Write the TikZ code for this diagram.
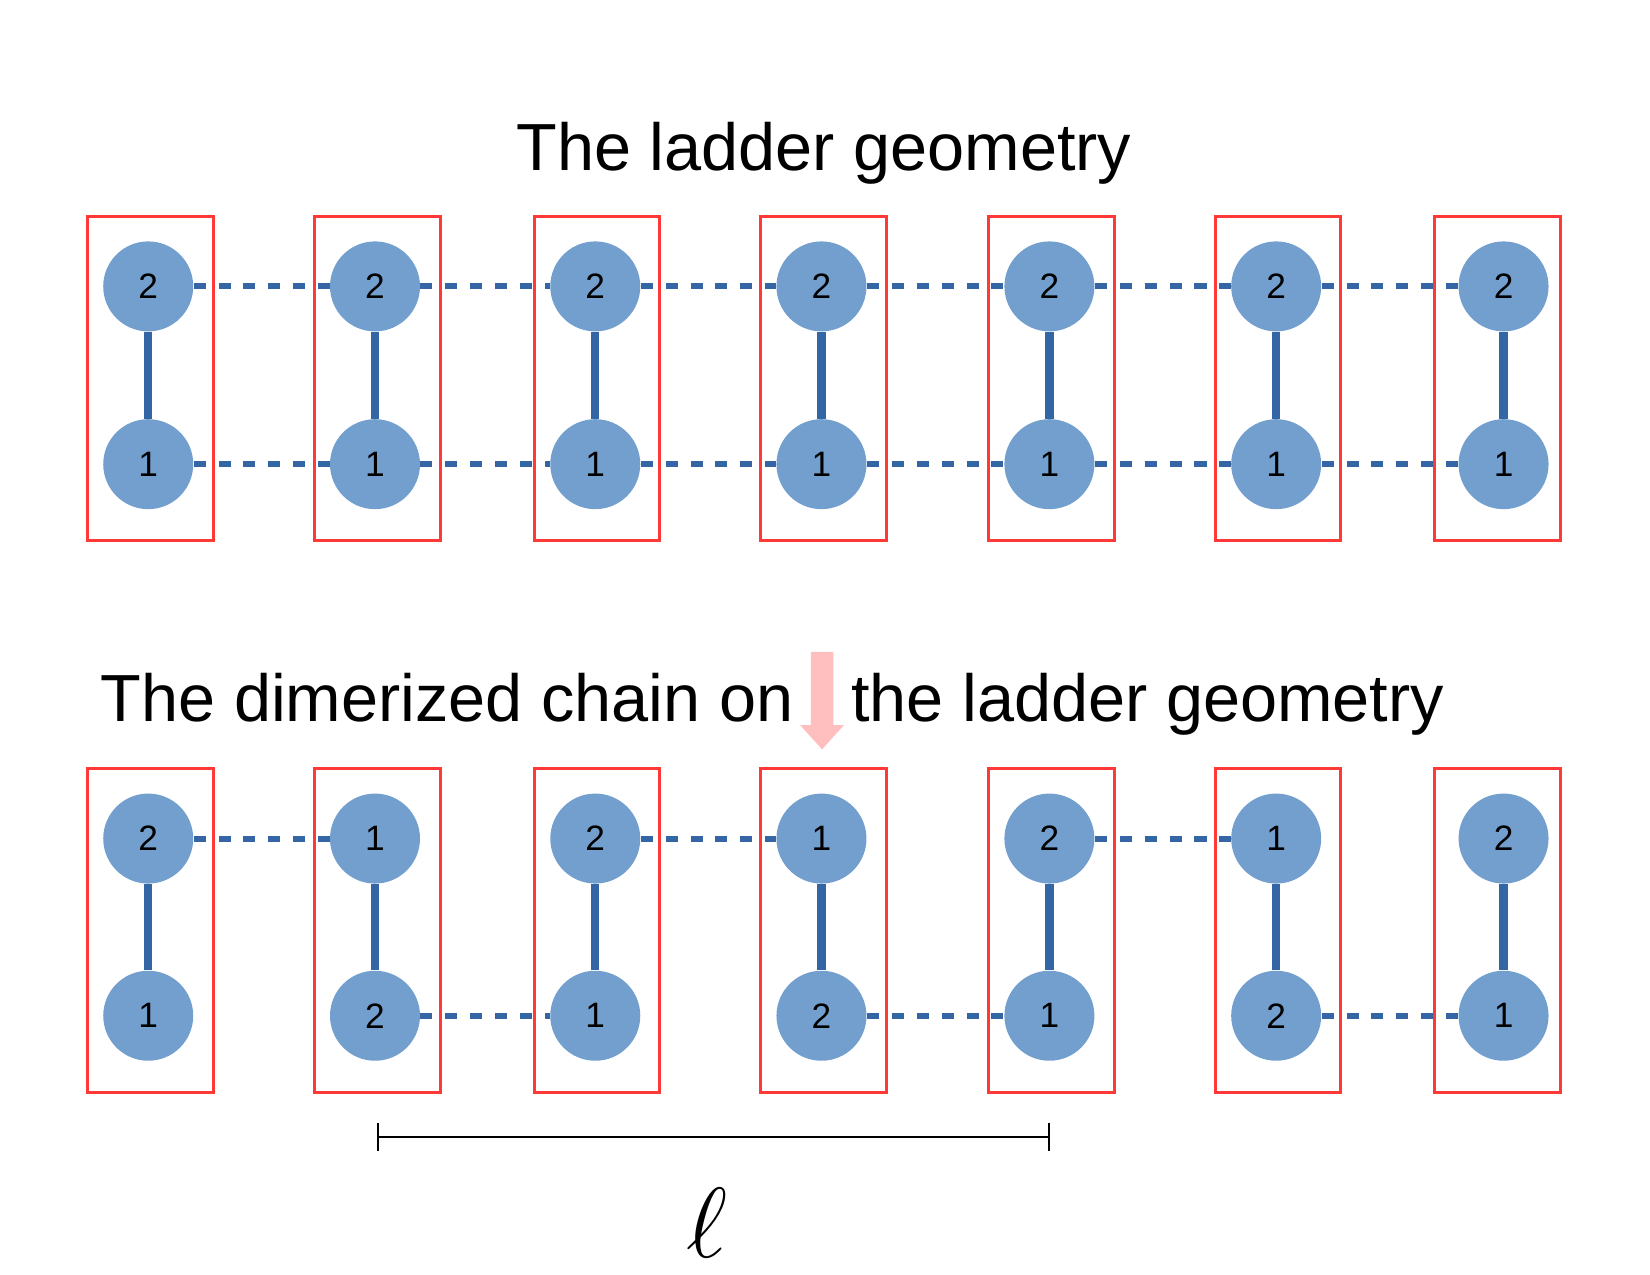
\documentclass[tikz,border=0pt]{standalone}
\usepackage{graphicx}
\usepackage{fontspec}
\setmainfont{Liberation Sans}
\usepackage{xcolor}
\usetikzlibrary{arrows.meta, positioning}
\definecolor{sitefill}{RGB}{115,159,207}
\definecolor{bondblue}{RGB}{52,101,164}
\definecolor{cellred}{RGB}{255,56,56}
\definecolor{arrowpink}{RGB}{255,191,191}

\begin{document}
\begin{tikzpicture}[
  site/.style={circle, fill=sitefill, minimum size=1.524cm, inner sep=0pt,
               font=\fontsize{17}{20}\selectfont},
  cell/.style={rectangle, draw=cellred, line width=1.45pt,
               minimum width=2.13cm, minimum height=5.49cm},
  rung/.style={draw=bondblue, line width=4pt},
  leg/.style={draw=bondblue, line width=2.9pt, dash pattern=on 5.8pt off 6.2pt},
  heading/.style={font=\fontsize{32.1}{38}\selectfont, inner sep=0pt}
]
\useasboundingbox (0,0) rectangle (27.94,21.59);
%% headings
\node[heading, anchor=base]      (h_ladder) at (13.95,18.70) {The ladder geometry};
\node[heading, anchor=base west] (h_dimer)  at (1.70,9.38)
    {The dimerized chain on\hspace{28pt}the ladder geometry};
%% unit cells
\foreach \i/\bx in {1/2.55, 2/6.39, 3/10.11, 4/13.95, 5/17.80, 6/21.64, 7/25.36} {
  \node[cell] (a_cell\i) at (\bx,15.18) {};
  \node[cell] (b_cell\i) at (\bx,5.84) {};
}
%% sites, ladder
\foreach \i/\nx in {1/2.51, 2/6.35, 3/10.08, 4/13.91, 5/17.77, 6/21.61, 7/25.46} {
  \node[site] (a_up\i) at (\nx,16.74) {2};
  \node[site] (a_dn\i) at (\nx,13.73) {1};
}
%% sites, dimerized chain
\foreach \i/\nx/\u/\d in {1/2.51/2/1, 2/6.35/1/2, 3/10.08/2/1, 4/13.91/1/2,
                          5/17.77/2/1, 6/21.61/1/2, 7/25.46/2/1} {
  \node[site] (b_up\i) at (\nx,7.39) {\u};
  \node[site] (b_dn\i) at (\nx,4.39) {\d};
}
%% rungs
\foreach \i in {1,...,7} {
  \draw[rung] (a_up\i) -- (a_dn\i);
  \draw[rung] (b_up\i) -- (b_dn\i);
}
%% legs
\foreach \i/\j in {1/2, 2/3, 3/4, 4/5, 5/6, 6/7} {
  \draw[leg] (a_up\i) -- (a_up\j);
  \draw[leg] (a_dn\i) -- (a_dn\j);
}
\foreach \i/\j in {1/2, 3/4, 5/6} \draw[leg] (b_up\i) -- (b_up\j);
\foreach \i/\j in {2/3, 4/5, 6/7} \draw[leg] (b_dn\i) -- (b_dn\j);
%% pink arrow
\fill[arrowpink] (13.73,10.55) -- (14.11,10.55) -- (14.11,9.31) -- (14.29,9.31)
    -- (13.92,8.90) -- (13.55,9.31) -- (13.73,9.31) -- cycle;
%% length bar
\coordinate (l_left)  at (6.38,2.34);
\coordinate (l_right) at (17.78,2.34);
\draw[{Bar[width=0.47cm]}-{Bar[width=0.47cm]}, line width=1pt] (l_left) -- (l_right);
\node[font=\fontsize{24.88}{30}\selectfont, anchor=base, inner sep=0pt] (ell) at (11.97,0.30)
    {\scalebox{1.93}{$\ell$}};
\end{tikzpicture}
\end{document}
